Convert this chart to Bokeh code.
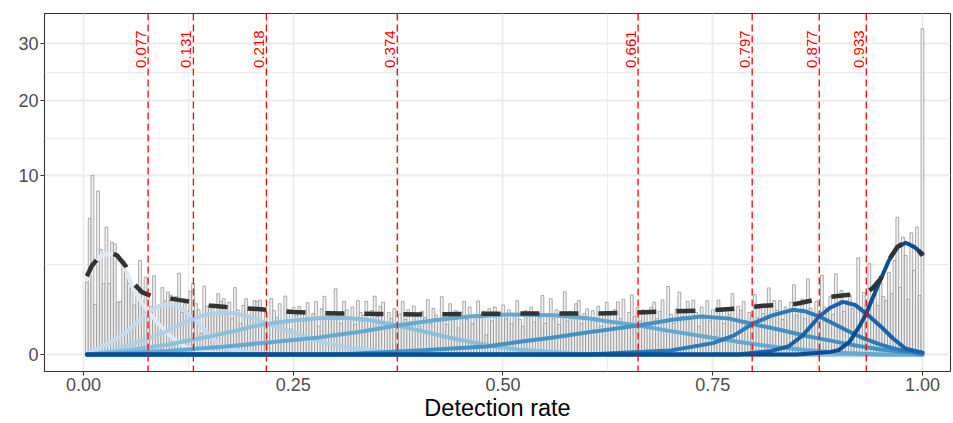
import numpy as np
from bokeh.plotting import figure
from bokeh.models import FixedTicker, Span, NumeralTickFormatter, CustomJSTickFormatter
from bokeh.core.properties import value
from bokeh.embed import file_html
from bokeh.resources import INLINE

# ---------------- data ----------------
bin_first_center = 0.004
bin_last_center = 1.0
hist_density = [
    1.63, 5.75, 9.97, 0.78, 8.30, 3.43, 1.57, 5.04, 1.57, 3.92,
    3.80, 0.85, 0.87, 2.75, 2.19, 1.57, 1.35, 0.76, 1.15, 2.75,
    0.89, 1.86, 0.47, 0.72, 1.93, 0.36, 0.72, 1.39, 0.89, 1.21,
    1.10, 0.72, 1.05, 2.05, 0.55, 0.80, 0.60, 1.25, 1.57, 0.80,
    0.62, 0.14, 1.45, 0.72, 0.76, 0.68, 0.55, 1.15, 0.87, 0.97,
    0.50, 0.85, 0.40, 1.39, 0.62, 0.30, 0.75, 0.97, 0.45, 0.70,
    0.90, 0.88, 0.92, 0.35, 0.55, 0.25, 0.97, 0.60, 0.42, 0.80,
    0.30, 1.06, 0.55, 0.20, 0.68, 0.48, 0.72, 0.35, 0.60, 0.83,
    0.40, 0.52, 0.87, 0.25, 0.65, 1.05, 0.38, 0.58, 0.45, 1.34,
    0.50, 0.30, 0.88, 0.62, 0.42, 0.70, 0.28, 0.90, 0.55, 0.48,
    0.88, 0.35, 0.60, 1.06, 0.45, 0.72, 0.85, 0.30, 0.55, 0.40,
    0.65, 0.20, 0.50, 0.87, 0.38, 0.62, 0.33, 0.73, 0.50, 0.25,
    0.58, 0.42, 0.93, 0.30, 0.66, 0.48, 0.35, 1.04, 0.52, 0.28,
    0.80, 0.45, 0.60, 0.22, 0.55, 0.88, 0.38, 0.70, 0.30, 0.50,
    0.89, 0.42, 0.58, 0.12, 0.65, 0.35, 0.70, 0.48, 0.55, 0.76,
    0.40, 0.62, 0.30, 0.52, 0.90, 0.38, 0.25, 0.60, 0.45, 0.70,
    0.33, 0.55, 0.42, 1.08, 0.30, 0.50, 0.97, 0.40, 0.62, 0.28,
    0.48, 1.22, 0.35, 0.58, 0.45, 0.80, 0.90, 0.30, 0.52, 0.65,
    0.38, 0.60, 0.42, 0.72, 0.25, 0.55, 0.85, 0.48, 0.35, 0.62,
    0.86, 0.40, 0.95, 0.30, 0.55, 1.10, 0.45, 0.68, 0.35, 0.62,
    0.52, 0.28, 0.70, 0.85, 0.40, 0.58, 0.92, 0.35, 1.44, 0.50,
    0.30, 0.65, 1.21, 0.45, 0.60, 0.88, 0.38, 0.92, 0.55, 0.25,
    0.70, 0.48, 0.90, 0.35, 0.62, 0.45, 0.92, 0.58, 0.30, 0.66,
    0.50, 1.15, 0.40, 0.72, 0.60, 0.88, 0.35, 0.55, 0.48, 1.12,
    0.42, 0.68, 0.52, 0.75, 1.38, 0.45, 0.90, 0.60, 0.90, 0.38,
    0.70, 0.55, 0.85, 1.51, 0.48, 0.62, 0.95, 0.40, 1.78, 0.66,
    0.52, 0.88, 0.45, 1.94, 0.70, 0.60, 1.05, 0.50, 2.02, 0.75,
    1.27, 0.58, 0.90, 1.10, 0.65, 0.80, 2.91, 0.70, 1.20, 0.85,
    2.56, 0.95, 1.30, 0.75, 1.60, 1.05, 0.90, 2.10, 1.15, 2.75,
    5.86, 1.40, 4.28, 3.05, 0.95, 4.60, 2.20, 5.04, 1.08, 33.0,
]

thresholds = [0.077, 0.131, 0.218, 0.374, 0.661, 0.797, 0.877, 0.933]
threshold_label_level = 29

c1_x = [0.004, 0.01, 0.02, 0.03, 0.04, 0.05, 0.06, 0.07, 0.077, 0.08, 0.09, 0.10, 0.11, 0.12, 0.14, 0.17, 1.0]
c1_y = [1.75, 2.35, 3.00, 3.18, 2.98, 2.30, 1.30, 0.80, 0.58, 0.50, 0.28, 0.14, 0.06, 0.02, 0.004, 0.0, 0.0]

c2_x = [0.004, 0.02, 0.03, 0.04, 0.05, 0.06, 0.07, 0.08, 0.09, 0.10, 0.11, 0.12, 0.131, 0.14, 0.15, 0.16, 0.17, 0.19, 0.22, 1.0]
c2_y = [0.0, 0.017, 0.04, 0.08, 0.14, 0.26, 0.43, 0.60, 0.73, 0.79, 0.74, 0.60, 0.40, 0.25, 0.11, 0.04, 0.012, 0.002, 0.0, 0.0]

c3_x = [0.004, 0.03, 0.05, 0.07, 0.08, 0.10, 0.12, 0.131, 0.14, 0.15, 0.165, 0.18, 0.195, 0.21, 0.218, 0.235, 0.25, 0.27, 0.29, 0.32, 0.36, 0.40, 1.0]
c3_y = [0.0, 0.003, 0.02, 0.06, 0.09, 0.17, 0.32, 0.40, 0.46, 0.51, 0.55, 0.53, 0.46, 0.36, 0.30, 0.21, 0.15, 0.08, 0.04, 0.012, 0.002, 0.0, 0.0]

c4_x = [0.004, 0.05, 0.10, 0.131, 0.15, 0.18, 0.20, 0.218, 0.25, 0.28, 0.31, 0.34, 0.374, 0.40, 0.43, 0.46, 0.49, 0.52, 0.56, 0.60, 1.0]
c4_y = [0.0, 0.005, 0.03, 0.07, 0.10, 0.17, 0.24, 0.29, 0.36, 0.41, 0.42, 0.37, 0.26, 0.18, 0.10, 0.05, 0.02, 0.007, 0.002, 0.0, 0.0]

c5_x = [0.004, 0.10, 0.17, 0.22, 0.28, 0.33, 0.374, 0.42, 0.46, 0.51, 0.56, 0.60, 0.63, 0.661, 0.70, 0.74, 0.78, 0.82, 0.86, 0.90, 0.95, 1.0]
c5_y = [0.0, 0.004, 0.02, 0.045, 0.09, 0.16, 0.26, 0.37, 0.45, 0.50, 0.48, 0.41, 0.33, 0.26, 0.17, 0.10, 0.05, 0.02, 0.006, 0.001, 0.0, 0.0]

c6_x = [0.004, 0.30, 0.40, 0.48, 0.52, 0.56, 0.60, 0.63, 0.661, 0.70, 0.736, 0.77, 0.797, 0.83, 0.86, 0.89, 0.92, 0.95, 0.98, 1.0]
c6_y = [0.0, 0.0, 0.005, 0.02, 0.05, 0.09, 0.15, 0.20, 0.26, 0.37, 0.45, 0.40, 0.29, 0.19, 0.11, 0.06, 0.025, 0.008, 0.002, 0.0]

c7_x = [0.004, 0.60, 0.70, 0.75, 0.775, 0.797, 0.82, 0.845, 0.86, 0.877, 0.89, 0.91, 0.93, 0.95, 0.97, 1.0]
c7_y = [0.0, 0.0, 0.005, 0.04, 0.11, 0.29, 0.47, 0.62, 0.58, 0.45, 0.33, 0.18, 0.08, 0.03, 0.008, 0.001]

c8_x = [0.004, 0.78, 0.82, 0.84, 0.857, 0.877, 0.89, 0.905, 0.92, 0.933, 0.95, 0.965, 0.98, 1.0]
c8_y = [0.0, 0.0, 0.004, 0.02, 0.11, 0.45, 0.68, 0.86, 0.76, 0.52, 0.25, 0.08, 0.01, 0.001]

c9_x = [0.004, 0.85, 0.89, 0.90, 0.913, 0.925, 0.933, 0.94, 0.948, 0.96, 0.97, 0.98, 0.99, 1.0]
c9_y = [0.0, 0.0, 0.002, 0.006, 0.05, 0.25, 0.52, 0.95, 1.57, 2.75, 3.58, 3.88, 3.60, 3.16]

mix_x = [0.004, 0.01, 0.02, 0.03, 0.04, 0.05, 0.06, 0.07, 0.08, 0.09, 0.10, 0.115, 0.131, 0.15, 0.17, 0.19,
         0.22, 0.25, 0.28, 0.32, 0.36, 0.40, 0.45, 0.50, 0.55, 0.60, 0.65, 0.70, 0.75, 0.78, 0.81, 0.85,
         0.87, 0.89, 0.91, 0.93, 0.94, 0.95, 0.96, 0.97, 0.98, 0.99, 1.0]
mix_y = [1.90, 2.45, 3.05, 3.25, 3.05, 2.45, 1.55, 1.20, 1.08, 1.03, 0.99, 0.92, 0.85, 0.75, 0.70, 0.67,
         0.62, 0.56, 0.53, 0.52, 0.51, 0.50, 0.51, 0.52, 0.52, 0.52, 0.54, 0.58, 0.61, 0.66, 0.74, 0.80,
         0.92, 1.03, 1.10, 1.15, 1.35, 1.78, 2.80, 3.60, 3.95, 3.72, 3.05]

component_colors = ["#DEEBF7", "#C6DBEF", "#AED1E7", "#8BBFDC", "#64A9D3",
                    "#4292C6", "#2B7BBA", "#1764AB", "#084D96"]

x_breaks = [0.0, 0.25, 0.5, 0.75, 1.0]
x_minor = [0.125, 0.375, 0.625, 0.875]
y_breaks = [0, 10, 20, 30]

# ---------------- figure ----------------
FONT = "Liberation Sans"
p = figure(width=953, height=423, x_range=(-0.0465, 1.0334), y_range=(-0.30, 6.014),
           output_backend="svg", toolbar_location=None,
           min_border_left=44, min_border_right=3, min_border_top=13, min_border_bottom=52)
p.background_fill_color = "white"
p.border_fill_color = "white"
p.outline_line_color = "#333333"
p.outline_line_width = 1.1

sq_breaks = [float(np.sqrt(b)) for b in y_breaks]
sq_minor = [(a + b) / 2 for a, b in zip(sq_breaks[:-1], sq_breaks[1:])]

p.xaxis.ticker = FixedTicker(ticks=x_breaks, minor_ticks=x_minor)
p.yaxis.ticker = FixedTicker(ticks=sq_breaks, minor_ticks=sq_minor)
p.xaxis.formatter = NumeralTickFormatter(format="0.00")
p.yaxis.formatter = CustomJSTickFormatter(code="return String(Math.round(tick * tick));")

for g in (p.xgrid, p.ygrid):
    g.grid_line_color = "#EBEBEB"
    g.grid_line_width = 1.8
    g.minor_grid_line_color = "#EBEBEB"
    g.minor_grid_line_width = 0.9

for ax in (p.xaxis, p.yaxis):
    ax.axis_line_color = None
    ax.major_tick_line_color = "#333333"
    ax.major_tick_line_width = 1.1
    ax.major_tick_out = 4
    ax.major_tick_in = 0
    ax.minor_tick_line_color = None
    ax.major_label_text_font = FONT
    ax.major_label_text_font_size = "18px"
    ax.major_label_text_color = "#4D4D4D"
    ax.major_label_standoff = 2

p.xaxis.axis_label = "Detection rate"
p.xaxis.axis_label_text_font = FONT
p.xaxis.axis_label_text_font_size = "23.5px"
p.xaxis.axis_label_text_font_style = "normal"
p.xaxis.axis_label_text_color = "black"
p.xaxis.axis_label_standoff = 1

# histogram
n_bins = len(hist_density)
centers = np.linspace(bin_first_center, bin_last_center, n_bins)
bw = (bin_last_center - bin_first_center) / (n_bins - 1)
p.vbar(x=centers, top=np.sqrt(hist_density), bottom=0, width=bw,
       fill_color="#F0F0F0", line_color="#8A8A8A", line_width=0.7)

# components
comps = [(c1_x, c1_y), (c2_x, c2_y), (c3_x, c3_y), (c4_x, c4_y), (c5_x, c5_y),
         (c6_x, c6_y), (c7_x, c7_y), (c8_x, c8_y), (c9_x, c9_y)]
for (cx, cy), col in zip(comps, component_colors):
    p.line(cx, np.sqrt(cy), line_color=col, line_width=4, line_join="round", line_cap="round")

# mixture
p.line(mix_x, np.sqrt(mix_y), line_color="#333333", line_width=4.5, line_dash="19 20")

# thresholds
for t in thresholds:
    p.add_layout(Span(location=t, dimension="height", line_color="#FF0000",
                      line_width=1.3, line_dash="7 4"))
p.text(x=thresholds, y=[float(np.sqrt(threshold_label_level))] * len(thresholds),
       text=[f"{t:.3f}" for t in thresholds], angle=np.pi / 2, x_offset=-2,
       text_align="center", text_baseline="bottom", text_color="#FF0000",
       text_font=value(FONT), text_font_size="15px")

open("out.html", "w").write(file_html(p, INLINE))
